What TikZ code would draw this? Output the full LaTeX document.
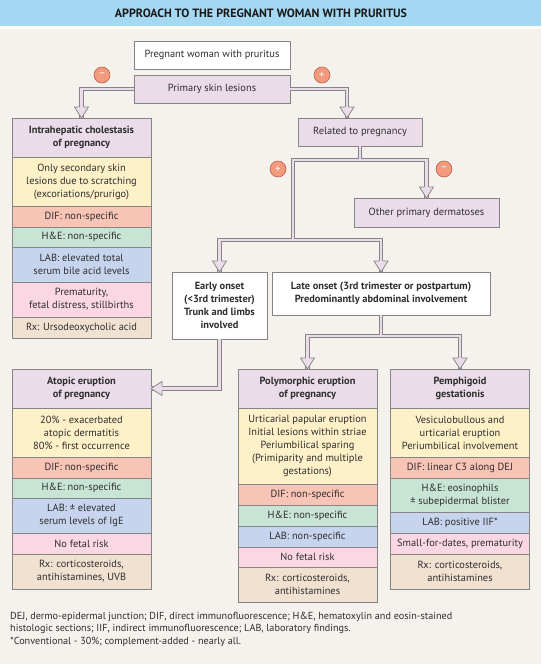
\documentclass[tikz,border=0pt]{standalone}
\usepackage{fontspec}
\setmainfont{PT Sans}
\usetikzlibrary{positioning,calc}

\definecolor{titleblue}{HTML}{A5D8F3}
\definecolor{paper}{HTML}{F5F2ED}
\definecolor{lav}{HTML}{EBDCE9}
\definecolor{cyellow}{HTML}{FEF0C7}
\definecolor{csalmon}{HTML}{F8C4B6}
\definecolor{cgreen}{HTML}{C8E4D5}
\definecolor{cblue}{HTML}{C7D4EE}
\definecolor{cpink}{HTML}{FBD7E3}
\definecolor{ctan}{HTML}{F1E1D1}
\definecolor{cline}{HTML}{858585}
\definecolor{ctext}{HTML}{2E2E2E}
\definecolor{cdot}{HTML}{F29A7E}
\definecolor{cdotline}{HTML}{C0604A}

\tikzset{
  cell/.style={draw=cline, line width=0.75pt, outer sep=0pt, inner sep=1pt, align=center,
    text=ctext, minimum width=139, font=\fontsize{10.4}{13}\selectfont},
  plain/.style={cell, fill=white},
  lavbox/.style={cell, fill=lav},
  hdr/.style={cell, fill=lav, minimum height=39, font=\fontsize{10.4}{13}\selectfont\bfseries},
  yel/.style={cell, fill=cyellow},
  dif/.style={cell, fill=csalmon, minimum height=21},
  hne/.style={cell, fill=cgreen, minimum height=20},
  lab/.style={cell, fill=cblue},
  risk/.style={cell, fill=cpink},
  rx/.style={cell, fill=ctan},
  sign/.style={circle, draw=cdotline, fill=cdot, line width=0.6pt, minimum size=16, inner sep=0pt,
    text=white, font=\fontsize{11}{11}\selectfont}
}

\begin{document}
\begin{tikzpicture}[x=1pt,y=1pt,yscale=-1]
\useasboundingbox (0,0) rectangle (541,664);
% background and title bar
\fill[paper] (0,29) rectangle (541,664);
\fill[titleblue] (0,0) rectangle (541,26);
\node[text=black!90, font=\fontsize{12}{14}\selectfont\bfseries] (ttl) at (261,13) {APPROACH TO THE PREGNANT WOMAN WITH PRURITUS};

% top of the tree
\node[plain, minimum width=156, minimum height=28] (preg) at (212,55) {Pregnant woman with pruritus};
\node[lavbox, minimum width=156, minimum height=28] (skin) at (212,89) {Primary skin lesions};
\node[lavbox, minimum width=124, minimum height=28] (rel) at (360,132) {Related to pregnancy};
\node[lavbox, minimum width=145, minimum height=29] (oth) at (426.5,212.5) {Other primary dermatoses};
\node[plain, minimum width=95, minimum height=67, font=\fontsize{10.4}{13}\selectfont\bfseries] (early) at (219.5,305.5)
  {Early onset\\(<3rd trimester)\\Trunk and limbs\\involved};
\node[plain, minimum width=218, minimum height=43, font=\fontsize{10.4}{13}\selectfont\bfseries] (late) at (381,293.5)
  {Late onset (3rd trimester or postpartum)\\Predominantly abdominal involvement};

% intrahepatic cholestasis
\node[hdr] (ich) at (81.5,137.5) {Intrahepatic cholestasis\\of pregnancy};
\node[yel, minimum height=49, below=0pt of ich] (ichA) {Only secondary skin\\lesions due to scratching\\(excoriations/prurigo)};
\node[dif, below=0pt of ichA] (ichB) {DIF: non-specific};
\node[hne, below=0pt of ichB] (ichC) {H\&E: non-specific};
\node[lab, minimum height=35, below=0pt of ichC] (ichD) {LAB: elevated total\\serum bile acid levels};
\node[risk, minimum height=35, below=0pt of ichD] (ichE) {Prematurity,\\fetal distress, stillbirths};
\node[rx, minimum height=21, below=0pt of ichE] (ichF) {Rx: Ursodeoxycholic acid};

% atopic eruption
\node[hdr] (ato) at (81.5,388.5) {Atopic eruption\\of pregnancy};
\node[yel, minimum height=49, below=0pt of ato] (atoA) {20\% - exacerbated\\atopic dermatitis\\80\% - first occurrence};
\node[dif, below=0pt of atoA] (atoB) {DIF: non-specific};
\node[hne, below=0pt of atoB] (atoC) {H\&E: non-specific};
\node[lab, minimum height=35, below=0pt of atoC] (atoD) {LAB: ± elevated\\serum levels of IgE};
\node[risk, minimum height=21, below=0pt of atoD] (atoE) {No fetal risk};
\node[rx, minimum height=35, below=0pt of atoE] (atoF) {Rx: corticosteroids,\\antihistamines, UVB};

% polymorphic eruption
\node[hdr] (poly) at (307.5,388.5) {Polymorphic eruption\\of pregnancy};
\node[yel, minimum height=76, below=0pt of poly] (polyA) {Urticarial papular eruption\\Initial lesions within striae\\Periumbilical sparing\\(Primiparity and multiple\\gestations)};
\node[dif, below=0pt of polyA] (polyB) {DIF: non-specific};
\node[hne, minimum height=21, below=0pt of polyB] (polyC) {H\&E: non-specific};
\node[lab, minimum height=21, below=0pt of polyC] (polyD) {LAB: non-specific};
\node[risk, minimum height=20, below=0pt of polyD] (polyE) {No fetal risk};
\node[rx, minimum height=35, below=0pt of polyE] (polyF) {Rx: corticosteroids,\\antihistamines};

% pemphigoid gestationis
\node[hdr] (pem) at (460,388.5) {Pemphigoid\\gestationis};
\node[yel, minimum height=49, below=0pt of pem] (pemA) {Vesiculobullous and\\urticarial eruption\\Periumbilical involvement};
\node[dif, below=0pt of pemA] (pemB) {DIF: linear C3 along DEJ};
\node[hne, minimum height=34, below=0pt of pemB] (pemC) {H\&E: eosinophils\\± subepidermal blister};
\node[lab, minimum height=21, below=0pt of pemC] (pemD) {LAB: positive IIF*};
\node[risk, minimum height=21, below=0pt of pemD] (pemE) {Small-for-dates, prematurity};
\node[rx, minimum height=35, below=0pt of pemE] (pemF) {Rx: corticosteroids,\\antihistamines};

% hollow connectors
\coordinate (rtip) at ([xshift=-13]rel.north);
\coordinate (rj) at ($(rel.south)+(0,14)$);
\coordinate (ej) at (293,240);
\coordinate (lj) at ($(late.south)+(0,21)$);
\foreach \w/\c in {4.2pt/cline, 2.7pt/lav}{
  \draw[line width=\w, draw=\c] (skin.west) -| (ich.north);
  \draw[line width=\w, draw=\c] (skin.east) -| (rtip);
  \draw[line width=\w, draw=\c] (rel.south) -- (rj) -| (oth.north);
  \draw[line width=\w, draw=\c] (rj) -| (ej);
  \draw[line width=\w, draw=\c] (early.north) |- (ej) -| (late.north);
  \draw[line width=\w, draw=\c] (early.south) |- (ato.east);
  \draw[line width=\w, draw=\c] (late.south) -- (lj);
  \draw[line width=\w, draw=\c] (poly.north) |- (lj) -| (pem.north);
}
% open arrow heads
\foreach \t/\r in {ich.north/0, rtip/0, oth.north/0, early.north/0, late.north/0, poly.north/0, pem.north/0, ato.east/90}{
  \begin{scope}[shift={(\t)}, rotate=\r]
    \fill[lav] (0,0) -- (-7,-11) -- (7,-11) -- cycle;
    \draw[cline, line width=0.75pt, line join=miter] (-2.1,-11) -- (-7,-11) -- (0,0) -- (7,-11) -- (2.1,-11);
  \end{scope}
}

% signs
\node[sign] (cm1) at (102,75) {--};
\node[sign] (cp1) at (322,75) {+};
\node[sign] (cp2) at (278,169) {+};
\node[sign] (cm2) at (444,169) {--};

% footnote
\node[anchor=north west, inner sep=0pt, align=left, text=ctext, font=\fontsize{10.2}{12.5}\selectfont] (note) at (10,612)
  {DEJ, dermo-epidermal junction; DIF, direct immunofluorescence; H\&E, hematoxylin and eosin-stained\\
   histologic sections; IIF, indirect immunofluorescence; LAB, laboratory findings.\\
   *Conventional - 30\%; complement-added - nearly all.};
\end{tikzpicture}
\end{document}
